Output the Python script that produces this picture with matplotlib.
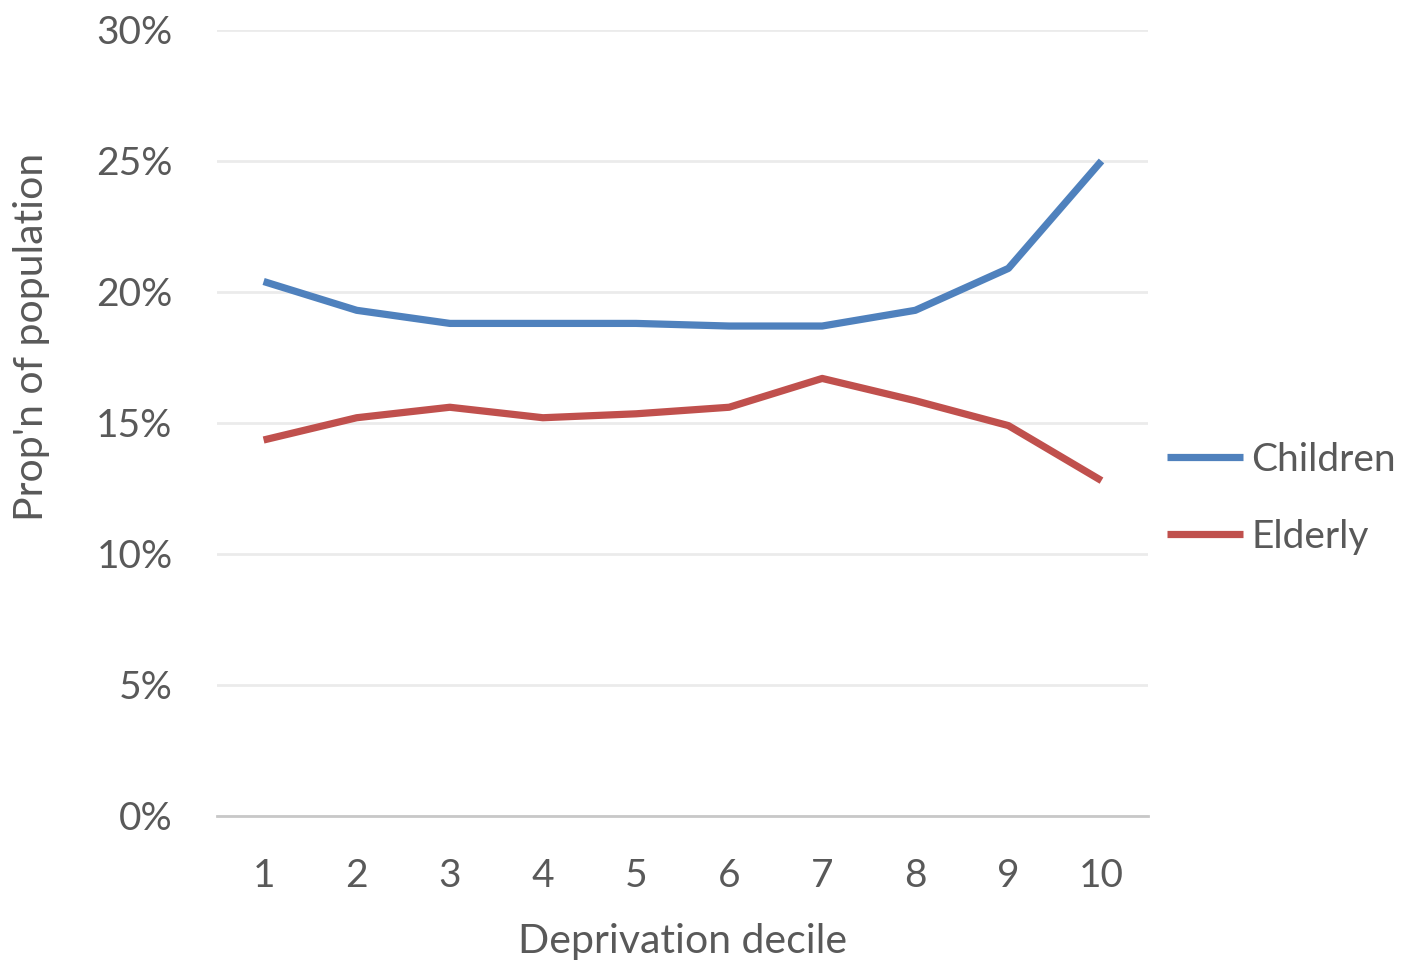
import matplotlib.pyplot as plt
from matplotlib.ticker import PercentFormatter

plt.rcParams['font.family'] = ['Lato', 'DejaVu Sans']

deciles = [1, 2, 3, 4, 5, 6, 7, 8, 9, 10]
children = [20.4, 19.3, 18.8, 18.8, 18.8, 18.7, 18.7, 19.3, 20.9, 25.0]
elderly = [14.35, 15.2, 15.6, 15.2, 15.35, 15.6, 16.7, 15.85, 14.9, 12.8]

text_col = '#595959'
fs = 28

fig = plt.figure(figsize=(14.04, 9.6), dpi=100)
ax = fig.add_axes([0.1546, 0.15, 0.6631, 0.8188])

ax.plot(deciles, children, color='#4F81BD', lw=5.2, solid_capstyle='butt', label='Children')
ax.plot(deciles, elderly, color='#C0504D', lw=5.2, solid_capstyle='butt', label='Elderly')

ax.set_xlim(0.5, 10.5)
ax.set_ylim(0, 30)
ax.set_xticks(deciles)
ax.set_yticks(range(0, 31, 5))
ax.yaxis.set_major_formatter(PercentFormatter(decimals=0))
ax.grid(axis='y', color='#EBEBEB', lw=2)
ax.set_axisbelow(True)
for s in ['top', 'right', 'left']:
    ax.spines[s].set_visible(False)
ax.spines['bottom'].set_color('#C8C8C8')
ax.spines['bottom'].set_linewidth(2)
ax.tick_params(length=0, labelsize=fs, colors=text_col)
ax.tick_params(axis='x', pad=30)
ax.tick_params(axis='y', pad=32)

ax.set_xlabel('Deprivation decile', fontsize=29.5, color=text_col, labelpad=21)
ax.set_ylabel("Prop'n of population", fontsize=29.5, color=text_col)
ax.yaxis.set_label_coords(-0.179, 0.61)

ax.legend(loc='center left', bbox_to_anchor=(1.0, 0.404), frameon=False, fontsize=fs,
          labelcolor=text_col, handlelength=1.93, handletextpad=0.23, labelspacing=1.05,
          borderaxespad=0.1)

fig.savefig('out.png', dpi=100)
